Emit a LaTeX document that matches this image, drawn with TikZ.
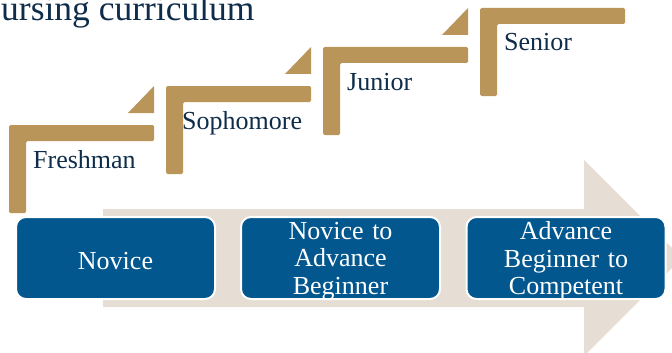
\documentclass[tikz,border=0pt]{standalone}
\usepackage{fontspec}
\setmainfont{Liberation Serif}
\definecolor{gold}{HTML}{B9955A}
\definecolor{beige}{HTML}{E6DED4}
\definecolor{boxblue}{HTML}{03578F}
\definecolor{navy}{HTML}{0F2D4A}
\tikzset{
  stairbar/.style={fill=gold, draw=none, rounded corners=1.5pt},
  stairtri/.style={fill=gold, draw=none},
  stairlabel/.style={anchor=base west, inner sep=0pt, text=navy, font=\fontsize{26}{27}\selectfont},
  stagebox/.style={rectangle, rounded corners=10pt, fill=boxblue, draw=white, line width=2pt,
    minimum width=199pt, minimum height=82pt, inner sep=0pt},
  stagetext/.style={text width=190pt, align=center, inner sep=0pt,
    text=white, font=\fontsize{26}{27.5}\selectfont},
  bigarrow/.style={fill=beige, draw=none}
}
\begin{document}
\begin{tikzpicture}[x=1pt,y=-1pt]
\useasboundingbox (0,0) rectangle (672,353);
% title
\node[anchor=base west, inner sep=0pt, text=navy, font=\fontsize{35.5}{36}\selectfont] (title) at (1,21) {ursing curriculum};
% big arrow
\fill[bigarrow] (103,209) -- (584,209) -- (584,160) -- (682,258) -- (584,356) -- (584,307) -- (103,307) -- cycle;
% stairs
\foreach \i/\lab/\nm/\off in {0/Freshman/fr/24,1/Sophomore/so/16,2/Junior/ju/24,3/Senior/se/24}{
  \pgfmathsetmacro{\xo}{9+157*\i}
  \pgfmathsetmacro{\yo}{125-39*\i}
  \fill[stairbar] (\xo,\yo) -- ({\xo+145},\yo) -- ({\xo+145},{\yo+16}) -- ({\xo+17},{\yo+16}) -- ({\xo+17},{\yo+88}) -- (\xo,{\yo+88}) -- cycle;
  \node[stairlabel] (\nm) at ({\xo+\off},{\yo+43}) {\lab};
}
\foreach \i in {0,1,2}{
  \pgfmathsetmacro{\xo}{9+157*\i}
  \pgfmathsetmacro{\yo}{125-39*\i}
  \fill[stairtri] ({\xo+119},{\yo-12}) -- ({\xo+145},{\yo-12}) -- ({\xo+145},{\yo-39}) -- cycle;
}
% stage boxes
\node[stagebox] (novice) at (115.5,258) {};
\node[stagebox] (nab) at (340.5,258) {};
\node[stagebox] (abc) at (566,258) {};
\node[stagetext] (novicetxt) at ([yshift=-3pt]novice.center) {Novice};
\node[stagetext] (nabtxt) at ([yshift=-3pt]nab.center) {Novice to\\Advance\\Beginner};
\node[stagetext] (abctxt) at ([yshift=-3pt]abc.center) {Advance\\Beginner to\\Competent};
\end{tikzpicture}
\end{document}
